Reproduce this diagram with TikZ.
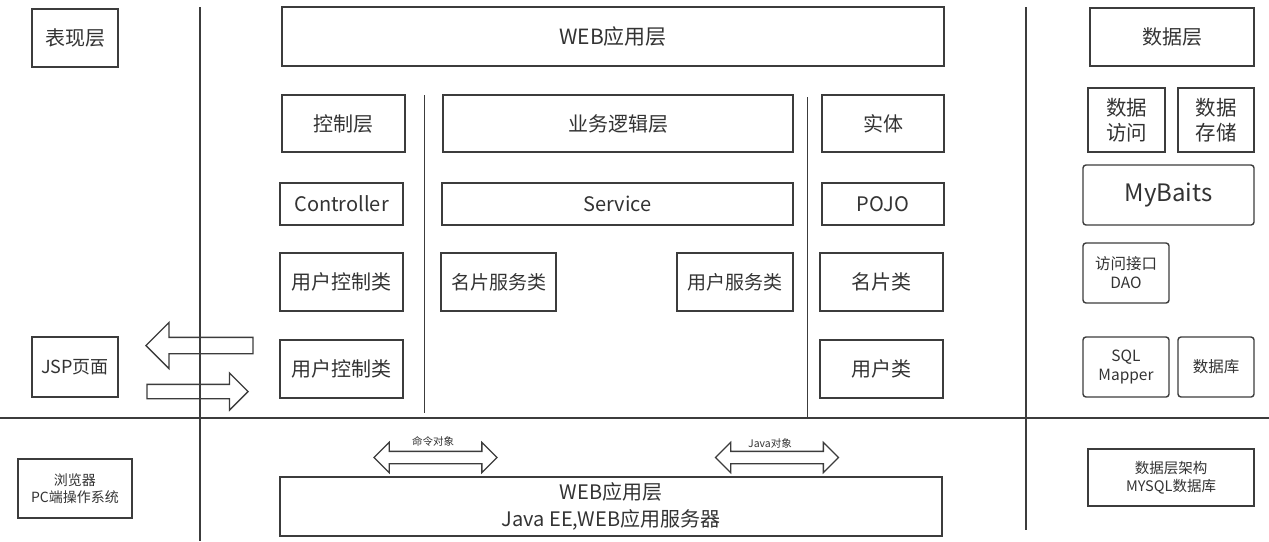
\documentclass[tikz,border=0pt]{standalone}
\usepackage{fontspec}
\setmainfont{Noto Sans CJK SC}
\usetikzlibrary{shapes.arrows}
\definecolor{inkline}{HTML}{3C3C3C}
\definecolor{inktext}{HTML}{333333}
\tikzset{
  layerbox/.style={draw=inkline, line width=1.4pt, text=inktext, align=center, inner sep=0pt, font=\fontsize{20}{24}\selectfont},
  roundbox/.style={layerbox, rounded corners=3pt},
  small/.style 2 args={font=\fontsize{#1}{#2}\selectfont},
  fatarrow/.style={draw=inkline, line width=1.3pt, single arrow, single arrow head extend=#1, inner xsep=0pt, anchor=tip},
  twinarrow/.style={draw=inkline, line width=1.3pt, double arrow, double arrow head extend=9pt, inner xsep=0pt, inner ysep=5.5pt, minimum height=123pt},
  tag/.style={text=inktext, inner sep=0pt, font=\fontsize{10.5}{12}\selectfont}
}
\begin{document}
\begin{tikzpicture}[x=1pt, y=-1pt]
\useasboundingbox (0,0) rectangle (1269,541);
% dividers
\draw [inkline, line width=1.4pt] (200,7) -- (200,541);
\draw [inkline, line width=1.4pt] (1026,7) -- (1026,530);
\draw [inkline, line width=1.4pt] (0,418) -- (1269,418);
\draw [inkline, line width=1.2pt] (424.5,95) -- (424.5,413);
\draw [inkline, line width=1.2pt] (807.5,97) -- (807.5,417);
% presentation side
\node [layerbox, minimum width=86pt, minimum height=58pt] (pres) at (75,38) {表现层};
\node [layerbox, small={18}{22}, minimum width=86pt, minimum height=60pt] (jsp) at (75,367) {JSP页面};
\node [layerbox, small={14}{17.5}, minimum width=114pt, minimum height=59pt] (browser) at (75,488.5) {浏览器\\PC端操作系统};
\node [fatarrow=15pt, inner ysep=7.5pt, minimum height=107pt, shape border rotate=180] (back) at (145,345.5) {};
\node [fatarrow=11.5pt, inner ysep=6.5pt, minimum height=101pt] (forth) at (249,391.5) {};
% web layer
\node [layerbox, small={21}{25}, minimum width=662pt, minimum height=59pt] (webtop) at (613,36.5) {WEB应用层};
\node [layerbox, minimum width=123pt, minimum height=57pt] (ctrl) at (343.5,123.5) {控制层};
\node [layerbox, minimum width=350pt, minimum height=57pt] (biz) at (618,123.5) {业务逻辑层};
\node [layerbox, minimum width=122pt, minimum height=57pt] (entity) at (883,123.5) {实体};
\node [layerbox, minimum width=123pt, minimum height=42pt] (controller) at (341.5,204) {Controller};
\node [layerbox, minimum width=351pt, minimum height=42pt] (service) at (617.5,204) {Service};
\node [layerbox, minimum width=122pt, minimum height=42pt] (pojo) at (883,204) {POJO};
\node [layerbox, minimum width=123pt, minimum height=58pt] (userctrlA) at (341.5,282) {用户控制类};
\node [layerbox, small={19}{23}, minimum width=115pt, minimum height=58pt] (cardsvc) at (498.5,282) {名片服务类};
\node [layerbox, small={19}{23}, minimum width=116pt, minimum height=58pt] (usersvc) at (735,282) {用户服务类};
\node [layerbox, minimum width=123pt, minimum height=58pt] (card) at (881.5,282) {名片类};
\node [layerbox, minimum width=123pt, minimum height=58pt] (userctrlB) at (341.5,369) {用户控制类};
\node [layerbox, minimum width=123pt, minimum height=58pt] (user) at (881.5,369) {用户类};
\node [layerbox, small={20}{27}, minimum width=662pt, minimum height=59pt] (webbot) at (611,506.5) {WEB应用层\\Java EE,WEB应用服务器};
\node [twinarrow] (cmdarrow) at (435.5,457.5) {};
\node [tag] (cmdtag) at (433,441) {命令对象};
\node [twinarrow] (javaarrow) at (777,457.5) {};
\node [tag] (javatag) at (770,443) {Java对象};
% data side
\node [layerbox, minimum width=164pt, minimum height=58pt] (datalayer) at (1172,37) {数据层};
\node [layerbox, small={20.5}{25}, minimum width=77pt, minimum height=64pt] (dacc) at (1126.5,120) {数据\\访问};
\node [layerbox, small={20.5}{25}, minimum width=76pt, minimum height=64pt] (dsto) at (1216,120) {数据\\存储};
\node [roundbox, small={24}{28}, minimum width=171pt, minimum height=60pt] (mybatis) at (1168.5,195) {MyBaits};
\node [roundbox, small={15.5}{19}, minimum width=86pt, minimum height=60pt] (dao) at (1126,273) {访问接口\\DAO};
\node [roundbox, small={15.5}{19}, minimum width=86pt, minimum height=60pt] (mapper) at (1126,367) {SQL\\Mapper};
\node [roundbox, small={15.5}{19}, minimum width=76pt, minimum height=60pt] (db) at (1216,367) {数据库};
\node [layerbox, small={14.5}{18}, minimum width=166pt, minimum height=57pt] (mysql) at (1171,477.5) {数据层架构\\MYSQL数据库};
\end{tikzpicture}
\end{document}
